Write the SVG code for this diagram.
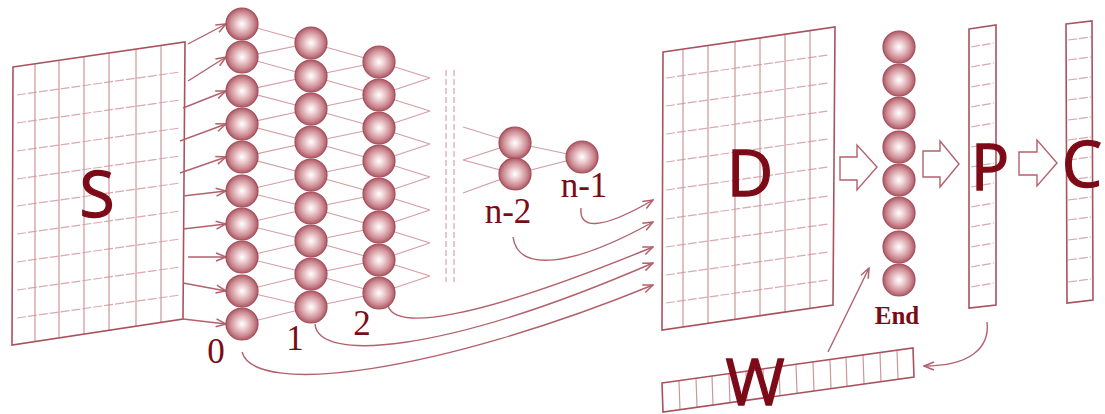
<svg xmlns="http://www.w3.org/2000/svg" width="1105" height="414" viewBox="0 0 1105 414">
<defs>
<radialGradient id="ball" cx="50%" cy="50%" r="50%">
<stop offset="0" stop-color="#ffffff"/>
<stop offset="0.3" stop-color="#efd3d6"/>
<stop offset="0.72" stop-color="#cf8f97"/>
<stop offset="1" stop-color="#ad5a66"/>
</radialGradient>
<marker id="ah" viewBox="0 0 12 10" refX="11" refY="5" markerWidth="12" markerHeight="10" orient="auto" markerUnits="userSpaceOnUse">
<path d="M1,1 L11,5 L1,9" fill="none" stroke="#b3616c" stroke-width="1.5"/>
</marker>
<style>
.ball{fill:url(#ball);stroke:#a34d59;stroke-width:1.2}
.frame{fill:none;stroke:#a9525d;stroke-width:1.6}
.gv{stroke:#cf959c;stroke-width:1.2;fill:none}
.gh{stroke:#d9a9ae;stroke-width:1.2;fill:none;stroke-dasharray:9 2}
.mesh{stroke:#d49ca3;stroke-width:1.1;fill:none}
.conn{stroke:#b3616c;stroke-width:1.4;fill:none}
.arr{stroke:#b3616c;stroke-width:1.4;fill:none;marker-end:url(#ah)}
.hollow{fill:#fff;stroke:#b3616c;stroke-width:1.4}
.big{font-family:'Open Sans','Noto Sans',sans-serif;font-size:64px;fill:#7d0a17;stroke:#7d0a17;stroke-width:1.3;text-anchor:middle}
.num{font-family:'Liberation Serif',serif;font-size:35px;fill:#7a0c16;text-anchor:middle}
.endl{font-family:'Liberation Serif',serif;font-size:25px;font-weight:bold;fill:#7a0c16;text-anchor:middle}
</style>
</defs>
<rect width="1105" height="414" fill="#fff"/>

<g id="S">
<path class="gh" d="M17,95 L180,72 M17,123 L180,100 M17,151 L180,128 M17,179 L180,156 M17,206 L180,183 M17,234 L180,211 M17,262 L180,239 M17,290 L180,267 M17,318 L180,295"/>
<path class="gv" d="M35,64 L35,341 M59,60 L59,338 M84,57 L84,334 M109,53 L109,330 M136,49 L136,326 M161,45 L161,322"/>
<polygon class="frame" points="13,67 185,42 183,319 12,345"/>
<text class="big" x="97" y="217">S</text>
</g>

<g id="D">
<path class="gh" d="M666,78 L828,55 M666,106 L828,83 M666,134 L828,111 M666,162 L828,139 M666,190 L828,167 M666,219 L828,196 M666,247 L828,224 M666,275 L828,252 M666,303 L828,280"/>
<path class="gv" d="M683,49 L683,327 M708,45 L708,323 M735,41 L735,319 M760,38 L760,316 M785,34 L785,312 M810,31 L810,308"/>
<polygon class="frame" points="663,52 835,27 833,305 662,330"/>
<text class="big" x="750" y="196">D</text>
</g>

<g id="P">
<path class="gh" d="M971,47 L994,43 M971,67 L994,63 M971,87 L994,83 M971,107 L994,103 M971,127 L994,123 M971,147 L994,143 M971,167 L994,163 M971,187 L994,183 M971,207 L994,203 M971,227 L994,223 M971,247 L994,243 M971,267 L994,263 M971,287 L994,283"/>
<polygon class="frame" points="969,29 996,25 996,305 969,308"/>
<text class="big" x="990" y="190">P</text>
</g>

<g id="C">
<path class="gh" d="M1068,40 L1091,37 M1068,60 L1091,57 M1068,80 L1091,77 M1068,100 L1091,97 M1068,120 L1091,117 M1068,140 L1091,137 M1068,160 L1091,157 M1068,180 L1091,177 M1068,200 L1091,197 M1068,220 L1091,217 M1068,240 L1091,237 M1068,260 L1091,257 M1068,282 L1091,279"/>
<polygon class="frame" points="1066,24 1092,21 1093,300 1067,303"/>
<text class="big" x="1082" y="187">C</text>
</g>

<g id="W">
<path class="gv" d="M679,381 L680,410 M696,378 L697,407 M712,376 L713,405 M729,374 L730,403 M746,371 L747,400 M763,369 L764,398 M779,367 L780,396 M796,364 L797,393 M813,362 L814,391 M830,360 L831,389 M846,357 L847,386 M863,355 L864,384 M880,353 L881,382 M897,350 L898,379"/>
<polygon class="frame" points="662,383 913,348 914,377 663,412"/>
<text class="big" x="755" y="405">W</text>
</g>

<g id="connectors">
<path class="mesh" d="M242,24 L311,43 M242,57 L311,43 M242,57 L311,76 M242,91 L311,76 M242,91 L311,109 M242,124 L311,109 M242,124 L311,142 M242,157 L311,142 M242,157 L311,175 M242,191 L311,175 M242,191 L311,208 M242,224 L311,208 M242,224 L311,241 M242,257 L311,241 M242,257 L311,274 M242,291 L311,274 M242,291 L311,307 M242,324 L311,307"/>
<path class="mesh" d="M311,43 L379,62 M311,76 L379,62 M311,76 L379,95 M311,109 L379,95 M311,109 L379,128 M311,142 L379,128 M311,142 L379,161 M311,175 L379,161 M311,175 L379,194 M311,208 L379,194 M311,208 L379,227 M311,241 L379,227 M311,241 L379,260 M311,274 L379,260 M311,274 L379,293 M311,307 L379,293"/>
<path class="mesh" d="M379,62 L430,78 M379,95 L430,78 M379,95 L430,111 M379,128 L430,111 M379,128 L430,144 M379,161 L430,144 M379,161 L430,177 M379,194 L430,177 M379,194 L430,210 M379,227 L430,210 M379,227 L430,243 M379,260 L430,243 M379,260 L430,276 M379,293 L430,276"/>
<path class="mesh" d="M463,127 L515,143 M463,160 L515,143 M463,160 L515,174 M463,193 L515,174 M515,143 L582,157 M515,174 L582,157"/>
<path class="mesh" stroke-dasharray="6 3" d="M446,70 L446,282 M454,70 L454,282"/>
<path class="arr" d="M188,44 L226,24"/>
<path class="arr" d="M188,81 L226,57"/>
<path class="arr" d="M183,108 L226,91"/>
<path class="arr" d="M180,141 L226,124"/>
<path class="arr" d="M180,173 L226,157"/>
<path class="arr" d="M183,196 L226,191"/>
<path class="arr" d="M183,229 L226,224"/>
<path class="arr" d="M188,257 L226,257"/>
<path class="arr" d="M183,283 L226,291"/>
<path class="arr" d="M183,319 L226,324"/>
<path class="arr" d="M581,208 C579,228 598,232 653,200"/>
<path class="arr" d="M513,237 C518,272 570,268 653,222"/>
<path class="arr" d="M388,306 C396,330 470,322 653,247"/>
<path class="arr" d="M315,324 C318,362 440,355 653,263"/>
<path class="arr" d="M242,352 C255,398 440,372 653,285"/>
<path class="arr" d="M828,352 L869,268"/>
<path class="arr" d="M987,322 C990,348 970,366 924,366"/>
<polygon class="hollow" points="840,157 857,157 857,145 877,167 857,190 857,180 840,180"/>
<polygon class="hollow" points="923,151 940,151 940,141 959,164 940,187 940,177 923,177"/>
<polygon class="hollow" points="1019,152 1037,152 1037,140 1057,163 1037,186 1037,175 1019,175"/>
</g>

<g id="layer0">
<circle class="ball" cx="242" cy="24" r="16"/>
<circle class="ball" cx="242" cy="57" r="16"/>
<circle class="ball" cx="242" cy="91" r="16"/>
<circle class="ball" cx="242" cy="124" r="16"/>
<circle class="ball" cx="242" cy="157" r="16"/>
<circle class="ball" cx="242" cy="191" r="16"/>
<circle class="ball" cx="242" cy="224" r="16"/>
<circle class="ball" cx="242" cy="257" r="16"/>
<circle class="ball" cx="242" cy="291" r="16"/>
<circle class="ball" cx="242" cy="324" r="16"/>
<text class="num" x="216" y="363">0</text>
</g>
<g id="layer1">
<circle class="ball" cx="311" cy="43" r="16"/>
<circle class="ball" cx="311" cy="76" r="16"/>
<circle class="ball" cx="311" cy="109" r="16"/>
<circle class="ball" cx="311" cy="142" r="16"/>
<circle class="ball" cx="311" cy="175" r="16"/>
<circle class="ball" cx="311" cy="208" r="16"/>
<circle class="ball" cx="311" cy="241" r="16"/>
<circle class="ball" cx="311" cy="274" r="16"/>
<circle class="ball" cx="311" cy="307" r="16"/>
<text class="num" x="295" y="350">1</text>
</g>
<g id="layer2">
<circle class="ball" cx="379" cy="62" r="16"/>
<circle class="ball" cx="379" cy="95" r="16"/>
<circle class="ball" cx="379" cy="128" r="16"/>
<circle class="ball" cx="379" cy="161" r="16"/>
<circle class="ball" cx="379" cy="194" r="16"/>
<circle class="ball" cx="379" cy="227" r="16"/>
<circle class="ball" cx="379" cy="260" r="16"/>
<circle class="ball" cx="379" cy="293" r="16"/>
<text class="num" x="362" y="335">2</text>
</g>
<g id="layerN2">
<circle class="ball" cx="515" cy="143" r="16"/>
<circle class="ball" cx="515" cy="174" r="16"/>
<text class="num" x="508" y="223">n-2</text>
</g>
<g id="layerN1">
<circle class="ball" cx="582" cy="157" r="16"/>
<text class="num" x="584" y="197">n-1</text>
</g>
<g id="End">
<circle class="ball" cx="899" cy="47" r="16"/>
<circle class="ball" cx="899" cy="80" r="16"/>
<circle class="ball" cx="899" cy="113" r="16"/>
<circle class="ball" cx="899" cy="147" r="16"/>
<circle class="ball" cx="899" cy="180" r="16"/>
<circle class="ball" cx="899" cy="213" r="16"/>
<circle class="ball" cx="899" cy="247" r="16"/>
<circle class="ball" cx="899" cy="280" r="16"/>
<text class="endl" x="897" y="324">End</text>
</g>
</svg>
